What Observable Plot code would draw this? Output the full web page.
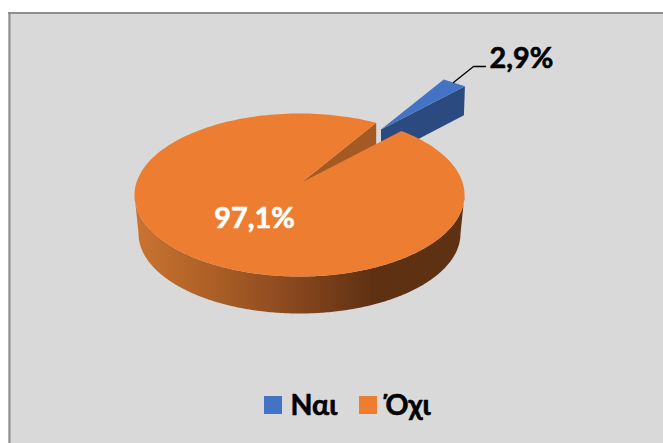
<!DOCTYPE html>
<html><head><meta charset="utf-8">
<style>html,body{margin:0;padding:0;background:#fff}svg{display:block}</style>
<script src="https://cdn.jsdelivr.net/npm/d3@7"></script>
<script src="https://cdn.jsdelivr.net/npm/@observablehq/plot@0.6"></script>
</head><body>
<script>
const categories = ["Ναι", "Όχι"];
const shares = [2.9, 97.1];
const shareLabels = ["2,9%", "97,1%"];
const topColors = ["#4472c4", "#ed7d31"];
const wallColors = ["#2b4a80", "#a55a23"];

// layout of the tilted pie
const W = 663, H = 443;
const top0 = {cx: 299, cy: 194.5, rx: 165, ry: 81.5};
const bot0 = {cx: 299, cy: 233, rx: 161, ry: 80};
const apex = [301, 182];
const startDeg = 27.7;
const blueShift = {apex: [380.5, 129], scale: 0.84, depth: 29};
const wallDepth = 36;

const rad = d => d * Math.PI / 180;
const onRim = (e, d) => [e.cx + e.rx * Math.sin(rad(d)), e.cy - e.ry * Math.cos(rad(d))];
const sweep = shares.map(s => s / d3.sum(shares) * 360);
const a0 = startDeg, a1 = startDeg + sweep[0], a2 = a1 + sweep[1];

// blue wedge, exploded
const rimA = onRim(top0, a0), rimB = onRim(top0, a1);
const blueAt = p => [blueShift.apex[0] + blueShift.scale * (p[0] - apex[0]),
                     blueShift.apex[1] + blueShift.scale * (p[1] - apex[1])];
const bA = blueAt(rimA), bB = blueAt(rimB), bP = blueShift.apex;
const blueWall = [bP, bB, [bB[0] - 1, bB[1] + blueShift.depth], [bP[0], bP[1] + blueShift.depth]];
const blueTop = [bP, bA, bB];

// cut face of the large slice
const cutFace = [apex, rimA, [rimA[0], rimA[1] + wallDepth], [apex[0], apex[1] + wallDepth]];

// large slice: top face and curved side
const sweepPts = (e, from, to, n = 240) => d3.range(n + 1).map(i => onRim(e, from + (to - from) * i / n));
const orangeTop = [apex, ...sweepPts(top0, a1, a2)];
const side = [...sweepPts(top0, 90, 270), ...sweepPts(bot0, 270, 90)];

const px = {x: d => d[0], y: d => d[1]};
const poly = (pts, fill) => Plot.line(pts, {...px, fill, stroke: "none", curve: "linear"});

const gradient = () => {
  const defs = d3.create("svg:defs");
  const g = defs.append("linearGradient").attr("id", "sideShade").attr("x1", 0).attr("x2", 1).attr("y1", 0).attr("y2", 0);
  [[0, "#cb7431"], [0.25, "#aa5e26"], [0.5, "#86461d"], [0.72, "#5f3113"], [1, "#5f3113"]]
    .forEach(([o, c]) => g.append("stop").attr("offset", o).attr("stop-color", c));
  return defs.node();
};

const legend = categories.map((c, i) => ({c, i, sx: [264, 359][i], tx: [290, 385][i]}));
const font = "Lato, 'Noto Sans', sans-serif";

document.body.append(Plot.plot({
  width: W, height: H, margin: 0,
  x: {domain: [0, W], range: [0, W], axis: null},
  y: {domain: [0, H], range: [0, H], axis: null},
  style: {background: "#fff", fontFamily: font},
  marks: [
    gradient,
    Plot.rect([0], {x1: 8, x2: W, y1: 12, y2: H, fill: "#d9d9d9"}),
    Plot.ruleY([12.5], {x1: 8, x2: W, stroke: "#8e8e8e", strokeWidth: 2}),
    Plot.ruleX([9], {y1: 12, y2: H, stroke: "#8e8e8e", strokeWidth: 2}),
    poly(blueWall, wallColors[0]),
    poly(blueTop, topColors[0]),
    poly(cutFace, wallColors[1]),
    poly(side, "url(#sideShade)"),
    poly(orangeTop, topColors[1]),
    Plot.line([[453, 82], [473, 66], [485, 66]], {...px, stroke: "#000", strokeWidth: 1.3}),
    Plot.text([shareLabels[0]], {x: 489, y: 58, text: d => d, textAnchor: "start", fontSize: 28.8, fontWeight: 700, fill: "#000", stroke: "#000", strokeWidth: 0.6}),
    Plot.text([shareLabels[1]], {x: 254, y: 218.5, text: d => d, fontSize: 28.8, fontWeight: 700, fill: "#fff", stroke: "#fff", strokeWidth: 0.6}),
    Plot.rect(legend, {x1: d => d.sx, x2: d => d.sx + 18, y1: 396, y2: 414, fill: d => topColors[d.i]}),
    Plot.text(legend, {x: "tx", y: 405, text: "c", textAnchor: "start", fontSize: 28.5, fontWeight: 700, fill: "#000", stroke: "#000", strokeWidth: 0.6})
  ]
}));
</script>
</body></html>
